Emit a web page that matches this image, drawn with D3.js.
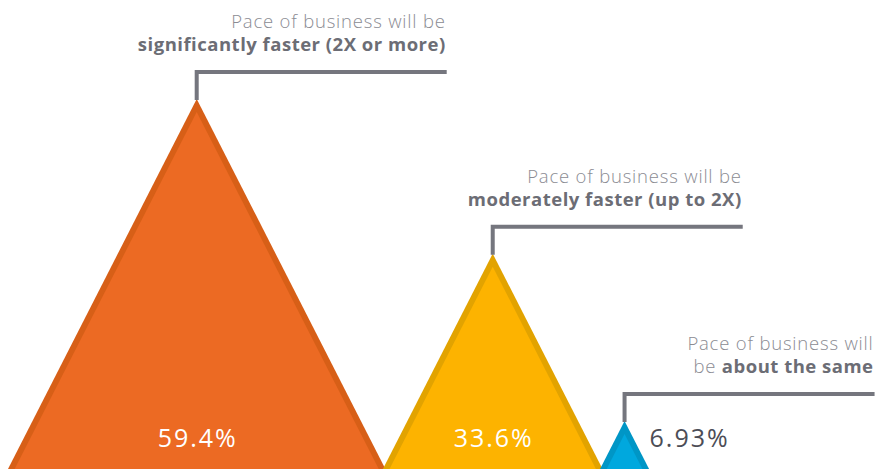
<!DOCTYPE html>
<html>
<head>
<meta charset="utf-8">
<script src="https://cdn.jsdelivr.net/npm/d3@7"></script>
<style>
  html, body { margin: 0; padding: 0; background: #fff; overflow: hidden; }
  svg { display: block; font-family: "Open Sans", sans-serif; }
</style>
</head>
<body>
<div id="chart"></div>
<script>
const width = 878;
const height = 469;

// data
const values = [59.4, 33.6, 6.93];
const valueLabels = ["59.4%", "33.6%", "6.93%"];
const introLines = ["Pace of business will be", "Pace of business will be", "Pace of business will"];
const boldPrefix = ["", "", "be "];
const boldLines = ["significantly faster (2X or more)", "moderately faster (up to 2X)", "about the same"];
const fillColors = ["#ec6a23", "#fdb300", "#00a8de"];
const edgeColors = ["#d75f17", "#e2a300", "#0096c6"];
const valueColors = ["#ffffff", "#ffffff", "#4c4d56"];

const baseY = height;
const slope = 0.51;       // half width / height
const inset = 13;         // how far the inner triangle apex sits below the outer one
const overlap = 2.5;

const h = d3.scalePow().exponent(0.95).domain([0, d3.max(values)]).range([0, 370]);

// lay triangles side by side
let cursor = 8;
const tris = values.map((v, i) => {
  const ht = h(v);
  const half = ht * slope;
  const cx = cursor + half;
  cursor += 2 * half - overlap;
  return { i, v, ht, half, cx, top: baseY - ht };
});

const svg = d3.select("#chart").append("svg")
  .attr("width", width)
  .attr("height", height);

const tri = (cx, top, bottom) => {
  const p = d3.path();
  const half = (bottom - top) * slope;
  p.moveTo(cx, top);
  p.lineTo(cx + half, bottom);
  p.lineTo(cx - half, bottom);
  p.closePath();
  return p.toString();
};

const g = svg.selectAll("g.tri").data(tris).join("g").attr("class", "tri");

g.append("path")
  .attr("d", d => tri(d.cx, d.top, baseY + 10))
  .attr("fill", d => edgeColors[d.i]);

g.append("path")
  .attr("d", d => tri(d.cx, d.top + inset, baseY + 10))
  .attr("fill", d => fillColors[d.i]);

// leader lines
const leadLen = 250;
const leadUp = 27;
svg.selectAll("path.lead").data(tris).join("path")
  .attr("class", "lead")
  .attr("d", d => `M${d.cx},${d.top + 1}V${d.top - leadUp}H${d.cx + leadLen}`)
  .attr("fill", "none")
  .attr("stroke", "#75767e")
  .attr("stroke-width", 4);

// annotation text
const ann = svg.selectAll("g.ann").data(tris).join("g").attr("class", "ann")
  .attr("transform", d => `translate(${d.cx + leadLen - 1},${d.top - leadUp})`)
  .attr("text-anchor", "end")
  .style("font-size", "18.5px");

ann.append("text")
  .attr("y", -44)
  .attr("fill", "#8b8c93")
  .style("font-weight", 300)
  .style("letter-spacing", "0.8px")
  .text(d => introLines[d.i]);

const t2 = ann.append("text").attr("y", -21).style("letter-spacing", "0.5px");
t2.append("tspan").attr("fill", "#8b8c93").style("font-weight", 300).style("letter-spacing", "0.8px").text(d => boldPrefix[d.i]);
t2.append("tspan").attr("fill", "#6c6d75").attr("font-weight", 700).text(d => boldLines[d.i]);

// value labels
svg.selectAll("text.val").data(tris).join("text")
  .attr("class", "val")
  .attr("x", d => d.i < 2 ? d.cx + 1 : d.cx + 25)
  .attr("y", 447)
  .attr("text-anchor", d => d.i < 2 ? "middle" : "start")
  .attr("fill", d => valueColors[d.i])
  .style("font-size", "25px")
  .style("font-weight", 500)
  .style("letter-spacing", "2px")
  .text(d => valueLabels[d.i]);
</script>
</body>
</html>
